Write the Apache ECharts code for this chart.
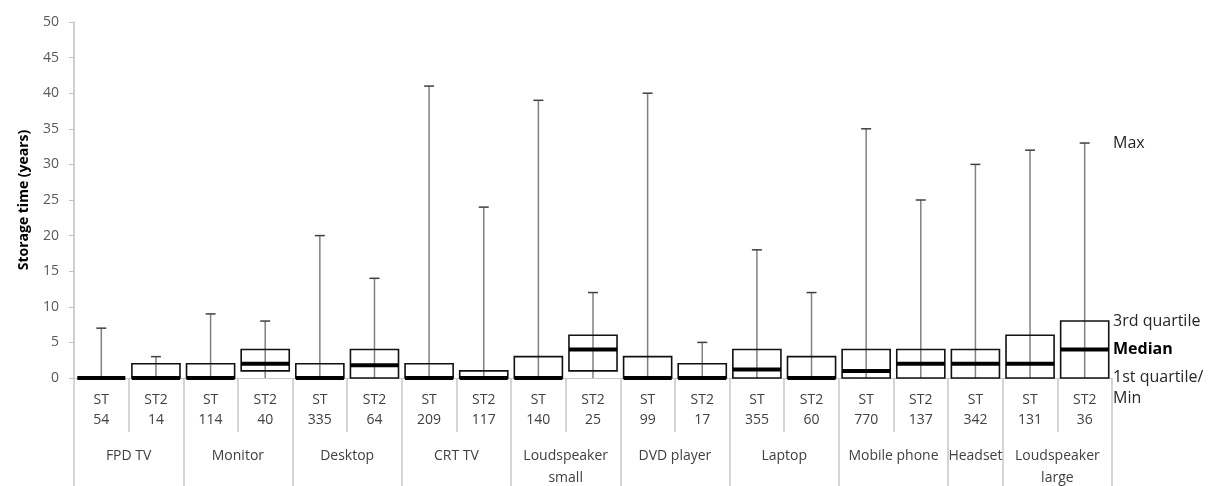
<!DOCTYPE html>
<html>
<head>
<meta charset="utf-8">
<script src="https://cdn.jsdelivr.net/npm/echarts@6/dist/echarts.min.js"></script>
<style>
html,body{margin:0;padding:0;background:#fff;}
#chart{width:1215px;height:486px;}
</style>
</head>
<body>
<div id="chart"></div>
<script>
// ---- data ----
const groupNames = ['FPD TV', 'Monitor', 'Desktop', 'CRT TV', 'Loudspeaker\nsmall', 'DVD player', 'Laptop', 'Mobile phone', 'Headset', 'Loudspeaker\nlarge'];
const groupSizes = [2, 2, 2, 2, 2, 2, 2, 2, 1, 2];
const sampleTypes = ['ST','ST2','ST','ST2','ST','ST2','ST','ST2','ST','ST2','ST','ST2','ST','ST2','ST','ST2','ST','ST','ST2'];
const sampleCounts = [54,14,114,40,335,64,209,117,140,25,99,17,355,60,770,137,342,131,36];
const mins    = [0,0,0,0,0,0,0,0,0,0,0,0,0,0,0,0,0,0,0];
const q1s     = [0,0,0,1,0,0,0,0,0,1,0,0,0,0,0,0,0,0,0];
const medians = [0,0,0,2,0,1.8,0,0,0,4,0,0,1.2,0,1,2,2,2,4];
const q3s     = [0,2,2,4,2,4,2,1,3,6,3,2,4,3,4,4,4,6,8];
const maxs    = [7,3,9,8,20,14,41,24,39,12,40,5,18,12,35,25,30,32,33];
const yTicks  = {min: 0, max: 50, interval: 5};
const legendTexts = {max: 'Max', q3: '3rd quartile', median: 'Median', q1: '1st quartile/\nMin'};

// ---- derived ----
const categories = sampleTypes.map((t, i) => t + '\n' + sampleCounts[i]);
const boundaries = [0];
const centers = [];
groupSizes.forEach((s) => { const b = boundaries[boundaries.length - 1]; centers.push(b + s / 2); boundaries.push(b + s); });
const nCat = categories.length;
const data = categories.map((c, i) => [i, mins[i], q1s[i], medians[i], q3s[i], maxs[i]]);

const FONT = '"Open Sans", Lato, sans-serif';
const chart = echarts.init(document.getElementById('chart'), null, {renderer: 'canvas'});

function renderItem(params, api) {
  const idx = api.value(0);
  const vMin = api.value(1), vQ1 = api.value(2), vMed = api.value(3), vQ3 = api.value(4), vMax = api.value(5);
  const pMin = api.coord([idx, vMin]);
  const pMax = api.coord([idx, vMax]);
  const pQ1 = api.coord([idx, vQ1]);
  const pQ3 = api.coord([idx, vQ3]);
  const pMed = api.coord([idx, vMed]);
  const band = api.size([1, 0])[0];
  const bw = band * 0.88;
  const cx = pMin[0];
  const capW = 10;
  const children = [
    {type: 'line', shape: {x1: cx, y1: pMin[1], x2: cx, y2: pMax[1]}, style: {stroke: '#808080', lineWidth: 1.5}},
    {type: 'line', shape: {x1: cx - capW / 2, y1: pMax[1], x2: cx + capW / 2, y2: pMax[1]}, style: {stroke: '#404040', lineWidth: 1.5}}
  ];
  if (Math.abs(pQ1[1] - pQ3[1]) > 0.5) {
    children.push({type: 'rect', shape: {x: cx - bw / 2, y: pQ3[1], width: bw, height: pQ1[1] - pQ3[1]},
      style: {fill: 'none', stroke: '#111', lineWidth: 1.6}});
  }
  children.push({type: 'line', shape: {x1: cx - bw / 2, y1: pMed[1], x2: cx + bw / 2, y2: pMed[1]}, style: {stroke: '#000', lineWidth: 4}});
  if (params.dataIndex === nCat - 1) {
    const tx = cx + band / 2 + 1;
    const ts = {fill: '#262626', fontSize: 16, fontFamily: FONT};
    children.push({type: 'text', x: tx, y: pMax[1], style: Object.assign({text: legendTexts.max, verticalAlign: 'middle'}, ts)});
    children.push({type: 'text', x: tx, y: pQ3[1], style: Object.assign({text: legendTexts.q3, verticalAlign: 'middle'}, ts)});
    children.push({type: 'text', x: tx, y: pMed[1], style: Object.assign({}, ts, {text: legendTexts.median, verticalAlign: 'middle', fontWeight: 'bold', fill: '#000'})});
    children.push({type: 'text', x: tx, y: pQ1[1] - 11, style: Object.assign({text: legendTexts.q1, verticalAlign: 'top', lineHeight: 21}, ts)});
  }
  return {type: 'group', children: children};
}

const option = {
  backgroundColor: '#fff',
  animation: false,
  grid: {left: 74, right: 103, top: 22, bottom: 108, containLabel: false, outerBoundsMode: 'none'},
  xAxis: [
    {
      type: 'category', data: categories, position: 'bottom',
      axisLine: {show: true, lineStyle: {color: '#c8c8c8', width: 1}},
      axisTick: {show: true, interval: 0, length: 54, lineStyle: {color: '#c8c8c8', width: 1.5}},
      axisLabel: {interval: 0, color: '#404040', fontSize: 14, lineHeight: 20, margin: 12, fontFamily: FONT},
      splitLine: {show: false}
    },
    {
      type: 'value', position: 'bottom', min: 0, max: nCat,
      axisLine: {show: false},
      axisTick: {show: true, customValues: boundaries, length: 110, lineStyle: {color: '#c8c8c8', width: 1.5}},
      axisLabel: {show: true, customValues: centers, margin: 67, color: '#404040', fontSize: 14, lineHeight: 22, fontFamily: FONT,
        formatter: function (v) { const k = centers.findIndex(c => Math.abs(c - v) < 1e-6); return k >= 0 ? groupNames[k] : ''; }},
      splitLine: {show: false}
    }
  ],
  yAxis: {
    type: 'value', min: yTicks.min, max: yTicks.max, interval: yTicks.interval,
    name: 'Storage time (years)', nameLocation: 'middle', nameGap: 43, nameRotate: 90,
    nameTextStyle: {fontWeight: 'bold', fontSize: 14, color: '#000', fontFamily: FONT},
    axisLine: {show: true, lineStyle: {color: '#c0c0c0', width: 1.5}},
    axisTick: {show: true, length: 5, lineStyle: {color: '#c0c0c0'}},
    axisLabel: {color: '#595959', fontSize: 14, margin: 15, fontFamily: FONT},
    splitLine: {show: false}
  },
  series: [{
    type: 'custom', xAxisIndex: 0, yAxisIndex: 0, clip: false,
    renderItem: renderItem,
    encode: {x: 0, y: [1, 2, 3, 4, 5]},
    data: data
  }]
};
chart.setOption(option);
</script>
</body>
</html>
